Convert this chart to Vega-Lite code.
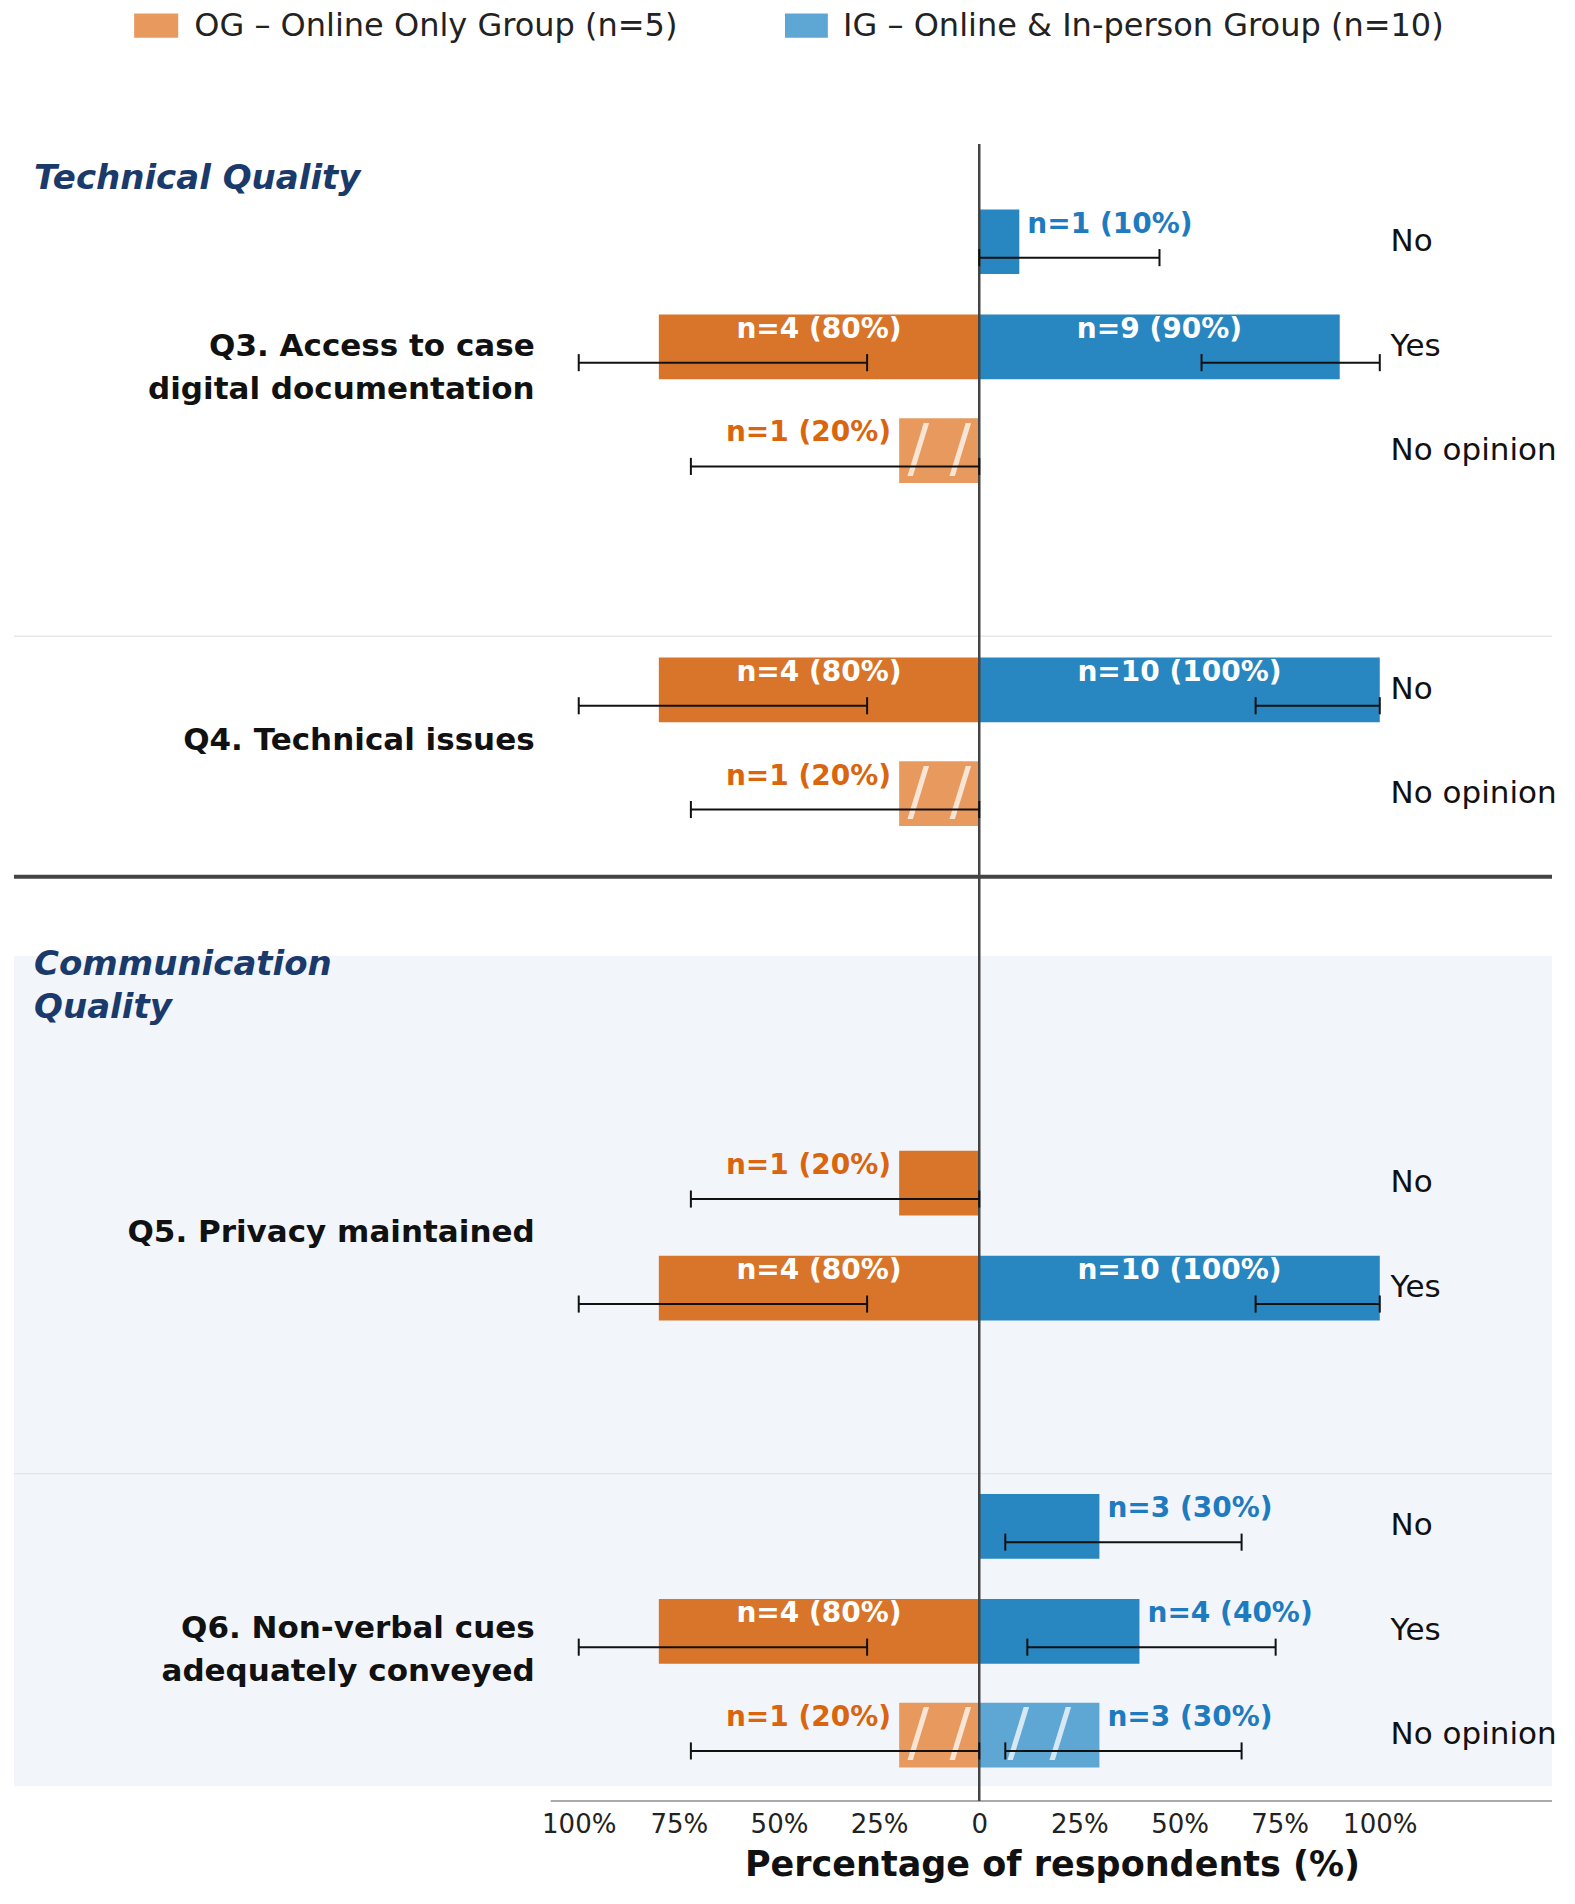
{
  "$schema": "https://vega.github.io/schema/vega-lite/v6.json",
  "width": 1538,
  "height": 1801,
  "padding": {"left": 12, "top": 0, "right": 25, "bottom": 5},
  "config": {"view": {"stroke": null}, "font": "DejaVu Sans"},
  "datasets": {
    "bars": [
      {"pos": 198, "group": "IG", "v": 0.1, "elo": 0.0, "ehi": 0.45, "label": "n=1 (10%)", "inside": false, "hatch": false},
      {"pos": 284, "group": "OG", "v": -0.8, "elo": -1.0, "ehi": -0.28, "label": "n=4 (80%)", "inside": true, "hatch": false},
      {"pos": 284, "group": "IG", "v": 0.9, "elo": 0.555, "ehi": 1.0, "label": "n=9 (90%)", "inside": true, "hatch": false},
      {"pos": 369, "group": "OG", "v": -0.2, "elo": -0.72, "ehi": 0.0, "label": "n=1 (20%)", "inside": false, "hatch": true},
      {"pos": 565, "group": "OG", "v": -0.8, "elo": -1.0, "ehi": -0.28, "label": "n=4 (80%)", "inside": true, "hatch": false},
      {"pos": 565, "group": "IG", "v": 1.0, "elo": 0.69, "ehi": 1.0, "label": "n=10 (100%)", "inside": true, "hatch": false},
      {"pos": 650, "group": "OG", "v": -0.2, "elo": -0.72, "ehi": 0.0, "label": "n=1 (20%)", "inside": false, "hatch": true},
      {"pos": 969, "group": "OG", "v": -0.2, "elo": -0.72, "ehi": 0.0, "label": "n=1 (20%)", "inside": false, "hatch": false},
      {"pos": 1055, "group": "OG", "v": -0.8, "elo": -1.0, "ehi": -0.28, "label": "n=4 (80%)", "inside": true, "hatch": false},
      {"pos": 1055, "group": "IG", "v": 1.0, "elo": 0.69, "ehi": 1.0, "label": "n=10 (100%)", "inside": true, "hatch": false},
      {"pos": 1250, "group": "IG", "v": 0.3, "elo": 0.065, "ehi": 0.655, "label": "n=3 (30%)", "inside": false, "hatch": false},
      {"pos": 1336, "group": "OG", "v": -0.8, "elo": -1.0, "ehi": -0.28, "label": "n=4 (80%)", "inside": true, "hatch": false},
      {"pos": 1336, "group": "IG", "v": 0.4, "elo": 0.12, "ehi": 0.74, "label": "n=4 (40%)", "inside": false, "hatch": false},
      {"pos": 1421, "group": "OG", "v": -0.2, "elo": -0.72, "ehi": 0.0, "label": "n=1 (20%)", "inside": false, "hatch": true},
      {"pos": 1421, "group": "IG", "v": 0.3, "elo": 0.065, "ehi": 0.655, "label": "n=3 (30%)", "inside": false, "hatch": true}
    ],
    "responses": [
      {"pos": 198, "r": "No"}, {"pos": 284, "r": "Yes"}, {"pos": 369, "r": "No opinion"},
      {"pos": 565, "r": "No"}, {"pos": 650, "r": "No opinion"},
      {"pos": 969, "r": "No"}, {"pos": 1055, "r": "Yes"},
      {"pos": 1250, "r": "No"}, {"pos": 1336, "r": "Yes"}, {"pos": 1421, "r": "No opinion"}
    ],
    "questions": [
      {"pos": 284, "q": ["Q3. Access to case", "digital documentation"]},
      {"pos": 607, "q": ["Q4. Technical issues"]},
      {"pos": 1010, "q": ["Q5. Privacy maintained"]},
      {"pos": 1334, "q": ["Q6. Non-verbal cues", "adequately conveyed"]}
    ]
  },
  "layer": [
    {
      "data": {"values": [{"x": -2.41, "x2": 1.43, "y": 783, "y2": 1463}]},
      "mark": {"type": "rect", "color": "#f2f6fb"},
      "encoding": {
        "x": {"field": "x", "type": "quantitative", "scale": {"domain": [-2.41, 1.43], "nice": false, "zero": false},
          "axis": {"values": [-1, -0.75, -0.5, -0.25, 0, 0.25, 0.5, 0.75, 1], "labelExpr": "datum.value == 0 ? '0' : format(abs(datum.value) * 100, 'd') + '%'",
            "domain": false, "grid": false, "ticks": false, "labelFontSize": 26, "labelColor": "#222", "labelPadding": 10,
            "title": "Percentage of respondents (%)", "titleFontSize": 35, "titleFontWeight": "bold", "titleColor": "#111", "titleX": 1038, "titlePadding": 10}},
        "x2": {"field": "x2"},
        "y": {"field": "y", "type": "quantitative", "scale": {"domain": [0, 1475], "reverse": true, "nice": false, "zero": false}, "axis": null},
        "y2": {"field": "y2"}
      }
    },
    {
      "data": {"values": [{"x": -2.41, "x2": 1.43, "y": 521, "w": 1, "c": "#dddddd"}, {"x": -2.41, "x2": 1.43, "y": 1207, "w": 1, "c": "#dddddd"}, {"x": -2.41, "x2": 1.43, "y": 718, "w": 4, "c": "#444444"}, {"x": -1.07, "x2": 1.43, "y": 1475, "w": 2, "c": "#aaaaaa"}]},
      "mark": {"type": "rule"},
      "encoding": {
        "x": {"field": "x", "type": "quantitative"}, "x2": {"field": "x2"},
        "y": {"field": "y", "type": "quantitative"},
        "color": {"field": "c", "type": "nominal", "scale": null},
        "strokeWidth": {"field": "w", "type": "quantitative", "scale": null}
      }
    },
    {
      "data": {"name": "bars"},
      "transform": [
        {"calculate": "datum.group + (datum.hatch ? 'h' : '')", "as": "key"},
        {"calculate": "datum.pos - 26.5", "as": "top"},
        {"calculate": "datum.pos + 26.5", "as": "bot"}
      ],
      "mark": {"type": "rect"},
      "encoding": {
        "x": {"field": "v", "type": "quantitative"}, "x2": {"datum": 0},
        "y": {"field": "top", "type": "quantitative"}, "y2": {"field": "bot"},
        "color": {"field": "key", "type": "nominal", "legend": null,
          "scale": {"domain": ["OG", "OGh", "IG", "IGh"], "range": ["#d9752a", "#e89a5e", "#2886c0", "#5ea6d3"]}}
      }
    },
    {
      "data": {"name": "bars"},
      "transform": [{"filter": "datum.hatch"}, {"calculate": "datum.v / 2", "as": "mid"}],
      "mark": {"type": "text", "text": "/ /", "fontSize": 64, "color": "white", "opacity": 0.75, "baseline": "middle", "dy": 0},
      "encoding": {"x": {"field": "mid", "type": "quantitative"}, "y": {"field": "pos", "type": "quantitative"}}
    },
    {
      "data": {"values": [{"x": 0, "y": 118, "y2": 1475}]},
      "mark": {"type": "rule", "color": "#444", "strokeWidth": 2.5},
      "encoding": {"x": {"field": "x", "type": "quantitative"}, "y": {"field": "y", "type": "quantitative"}, "y2": {"field": "y2"}}
    },
    {
      "data": {"name": "bars"},
      "transform": [{"calculate": "datum.pos + 13", "as": "ey"}],
      "mark": {"type": "rule", "color": "#111", "strokeWidth": 2},
      "encoding": {"x": {"field": "elo", "type": "quantitative"}, "x2": {"field": "ehi"}, "y": {"field": "ey", "type": "quantitative"}}
    },
    {
      "data": {"name": "bars"},
      "transform": [{"fold": ["elo", "ehi"], "as": ["k", "ex"]}, {"calculate": "datum.pos + 6", "as": "c1"}, {"calculate": "datum.pos + 20", "as": "c2"}],
      "mark": {"type": "rule", "color": "#111", "strokeWidth": 2},
      "encoding": {"x": {"field": "ex", "type": "quantitative"}, "y": {"field": "c1", "type": "quantitative"}, "y2": {"field": "c2"}}
    },
    {
      "data": {"name": "bars"},
      "transform": [{"filter": "datum.inside"}, {"calculate": "datum.v / 2", "as": "mid"}, {"calculate": "datum.pos - 14", "as": "ly"}],
      "mark": {"type": "text", "color": "white", "fontWeight": "bold", "fontSize": 28, "align": "center", "baseline": "middle"},
      "encoding": {"x": {"field": "mid", "type": "quantitative"}, "y": {"field": "ly", "type": "quantitative"}, "text": {"field": "label"}}
    },
    {
      "data": {"name": "bars"},
      "transform": [{"filter": "!datum.inside && datum.group == 'OG'"}, {"calculate": "datum.v - 0.02", "as": "lx"}, {"calculate": "datum.pos - 14", "as": "ly"}],
      "mark": {"type": "text", "color": "#d9650f", "fontWeight": "bold", "fontSize": 28, "align": "right", "baseline": "middle"},
      "encoding": {"x": {"field": "lx", "type": "quantitative"}, "y": {"field": "ly", "type": "quantitative"}, "text": {"field": "label"}}
    },
    {
      "data": {"name": "bars"},
      "transform": [{"filter": "!datum.inside && datum.group == 'IG'"}, {"calculate": "datum.v + 0.02", "as": "lx"}, {"calculate": "datum.pos - 14", "as": "ly"}],
      "mark": {"type": "text", "color": "#1f7bbf", "fontWeight": "bold", "fontSize": 28, "align": "left", "baseline": "middle"},
      "encoding": {"x": {"field": "lx", "type": "quantitative"}, "y": {"field": "ly", "type": "quantitative"}, "text": {"field": "label"}}
    },
    {
      "data": {"name": "responses"},
      "mark": {"type": "text", "color": "#111", "fontSize": 31, "align": "left", "baseline": "middle"},
      "encoding": {"x": {"datum": 1.027}, "y": {"field": "pos", "type": "quantitative"}, "text": {"field": "r"}}
    },
    {
      "data": {"name": "questions"},
      "mark": {"type": "text", "color": "#111", "fontSize": 31, "fontWeight": "bold", "align": "right", "baseline": "middle", "lineHeight": 43},
      "encoding": {"x": {"datum": -1.11}, "y": {"field": "pos", "type": "quantitative"}, "text": {"field": "q"}}
    },
    {
      "data": {"values": [{"pos": 147, "t": ["Technical Quality"]}, {"pos": 790, "t": ["Communication", "Quality"]}]},
      "mark": {"type": "text", "color": "#1a3a6b", "fontSize": 34, "fontWeight": "bold", "fontStyle": "italic", "align": "left", "baseline": "middle", "lineHeight": 43},
      "encoding": {"x": {"datum": -2.36}, "y": {"field": "pos", "type": "quantitative"}, "text": {"field": "t"}}
    },
    {
      "data": {"values": [{"x": -2.11, "x2": -2.0, "key": "OGh"}, {"x": -0.485, "x2": -0.378, "key": "IGh"}]},
      "mark": {"type": "rect"},
      "encoding": {"x": {"field": "x", "type": "quantitative"}, "x2": {"field": "x2"}, "y": {"datum": 11}, "y2": {"datum": 31},
        "color": {"field": "key", "type": "nominal", "legend": null}}
    },
    {
      "data": {"values": [{"x": -1.96, "t": "OG – Online Only Group (n=5)"}, {"x": -0.34, "t": "IG – Online & In-person Group (n=10)"}]},
      "mark": {"type": "text", "color": "#222", "fontSize": 32, "align": "left", "baseline": "middle"},
      "encoding": {"x": {"field": "x", "type": "quantitative"}, "y": {"datum": 21}, "text": {"field": "t"}}
    }
  ]
}
